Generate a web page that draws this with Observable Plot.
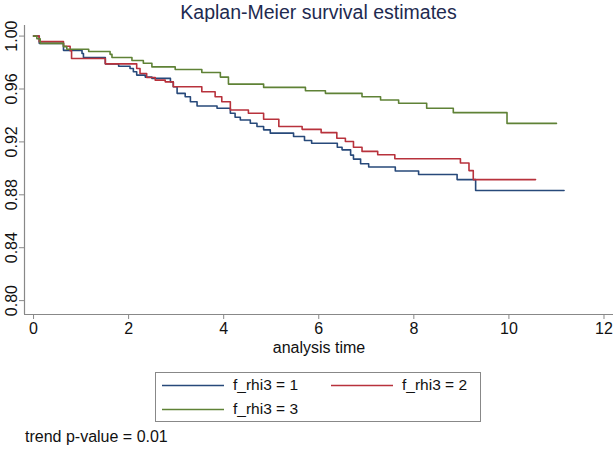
<!DOCTYPE html>
<html>
<head>
<meta charset="utf-8">
<script src="https://cdn.jsdelivr.net/npm/d3@7"></script>
<script src="https://cdn.jsdelivr.net/npm/@observablehq/plot@0.6"></script>
<style>
  html, body { margin: 0; padding: 0; background: #fff; }
  body { font-family: "Liberation Sans", Arial, Helvetica, sans-serif; color: #111; }
  #wrap { position: relative; width: 616px; height: 450px; overflow: hidden; }
  #title { position: absolute; left: 24px; width: 589px; top: 0; height: 24px; line-height: 24px; text-align: center; font-size: 19.5px; color: #1e2a50; }
  #chart { position: absolute; left: 0; top: 22px; }
  #legend { position: absolute; left: 155px; top: 372px; width: 326px; height: 50px; border: 1px solid #888; box-sizing: border-box; }
  .item { position: absolute; height: 20px; line-height: 20px; font-size: 15.5px; }
  .item svg { position: absolute; left: 0; top: 9px; }
  .item .lb { position: absolute; left: 71px; top: 0; white-space: nowrap; }
  #caption { position: absolute; left: 25px; top: 427px; font-size: 16px; line-height: 20px; }
</style>
</head>
<body>
<div id="wrap">
  <div id="title"></div>
  <div id="chart"></div>
  <div id="legend"></div>
  <div id="caption"></div>
</div>
<script>
// ---- data ----
const titleText = "Kaplan-Meier survival estimates";
const xLabel = "analysis time";
const captionText = "trend p-value = 0.01";
const groups = ["f_rhi3 = 1", "f_rhi3 = 2", "f_rhi3 = 3"];
const colors = ["#27497a", "#b8323c", "#5f8236"];
const xTicks = [0, 2, 4, 6, 8, 10, 12];
const yTicks = [0.80, 0.84, 0.88, 0.92, 0.96, 1.00];

const time1 = [0, 0.12, 0.63, 1.02, 1.05, 1.51, 1.79, 2.03, 2.10, 2.17, 2.35, 2.49, 2.88, 2.94, 3.02, 3.19, 3.30, 3.44, 3.86, 4.14, 4.24, 4.35, 4.56, 4.70, 4.84, 4.98, 5.47, 5.70, 5.85, 6.39, 6.49, 6.67, 6.73, 6.88, 7.05, 7.61, 8.10, 8.91, 9.30, 11.16];
const surv1 = [1.0, 0.9945, 0.9892, 0.9868, 0.9838, 0.979, 0.9772, 0.9755, 0.973, 0.9705, 0.969, 0.968, 0.9654, 0.9617, 0.9567, 0.9541, 0.9504, 0.9471, 0.9454, 0.9417, 0.9386, 0.9366, 0.9341, 0.9316, 0.9291, 0.9266, 0.9241, 0.921, 0.919, 0.916, 0.914, 0.910, 0.907, 0.9035, 0.901, 0.898, 0.8953, 0.8915, 0.8832, 0.8832];

const time2 = [0, 0.12, 0.63, 0.77, 0.80, 1.51, 2.17, 2.24, 2.38, 2.56, 2.77, 2.94, 3.54, 3.82, 3.96, 4.14, 4.52, 4.84, 5.16, 5.65, 6.05, 6.38, 6.56, 6.73, 6.91, 7.24, 7.60, 8.98, 9.16, 9.25, 10.56];
const surv2 = [1.0, 0.9958, 0.9923, 0.989, 0.983, 0.979, 0.9755, 0.9717, 0.9687, 0.9667, 0.9654, 0.9617, 0.9579, 0.9541, 0.9504, 0.9441, 0.9417, 0.9371, 0.9316, 0.9295, 0.927, 0.9228, 0.9203, 0.916, 0.9128, 0.9103, 0.9073, 0.904, 0.8983, 0.8915, 0.8915];

const time3 = [0, 0.07, 0.14, 0.63, 0.70, 1.16, 1.61, 1.65, 2.07, 2.31, 2.49, 2.98, 3.54, 3.93, 4.10, 4.84, 5.72, 6.14, 6.91, 7.30, 7.68, 8.27, 8.83, 9.96, 11.0];
const surv3 = [1.0, 0.998, 0.9945, 0.992, 0.990, 0.9883, 0.9862, 0.9838, 0.9815, 0.9795, 0.9767, 0.9747, 0.9725, 0.969, 0.9637, 0.9612, 0.9587, 0.9567, 0.9541, 0.9517, 0.9492, 0.9454, 0.9421, 0.934, 0.934];

// ---- build table ----
const series = [[time1, surv1], [time2, surv2], [time3, surv3]];
const rows = [];
series.forEach(([ts, ss], i) => ts.forEach((t, j) => rows.push({group: groups[i], t, s: ss[j]})));

const xDomain = [-0.19, 12.2];
const yDomain = [0.7895, 1.008];
const axisColor = "#888";
const font = "'Liberation Sans', Arial, Helvetica, sans-serif";

const chart = Plot.plot({
  width: 616,
  height: 343,
  marginTop: 3,
  marginLeft: 24,
  marginRight: 3,
  marginBottom: 51,
  style: {fontFamily: font, fontSize: "16px", color: "#111", background: "white", overflow: "visible"},
  x: {domain: xDomain},
  y: {domain: yDomain},
  color: {domain: groups, range: colors},
  marks: [
    Plot.ruleX([xDomain[0]], {stroke: axisColor, strokeWidth: 1.2}),
    Plot.ruleY([yDomain[0]], {stroke: axisColor, strokeWidth: 1.2}),
    Plot.axisX({ticks: xTicks, tickFormat: d3.format("d"), tickSize: 5, tickPadding: 3, stroke: axisColor, fontSize: 16,
      label: xLabel, labelAnchor: "center", labelOffset: 38, labelArrow: "none"}),
    Plot.axisY({ticks: yTicks, tickFormat: d3.format(".2f"), tickSize: 5, tickPadding: 3, stroke: axisColor, fontSize: 16,
      tickRotate: -90, label: null}),
    Plot.line(rows, {x: "t", y: "s", z: "group", stroke: "group", curve: "step-after", strokeWidth: 1.6})
  ]
});
document.getElementById("chart").appendChild(chart);

document.getElementById("title").textContent = titleText;
document.getElementById("caption").textContent = captionText;

const legendPos = [[6, 2], [175, 2], [6, 26]];
const legend = document.getElementById("legend");
const ns = "http://www.w3.org/2000/svg";
groups.forEach((g, i) => {
  const it = document.createElement("div");
  it.className = "item";
  it.style.left = legendPos[i][0] + "px";
  it.style.top = legendPos[i][1] + "px";
  const sv = document.createElementNS(ns, "svg");
  sv.setAttribute("width", "62");
  sv.setAttribute("height", "3");
  const ln = document.createElementNS(ns, "line");
  ln.setAttribute("x1", "0"); ln.setAttribute("x2", "62");
  ln.setAttribute("y1", "1.5"); ln.setAttribute("y2", "1.5");
  ln.setAttribute("stroke", colors[i]);
  ln.setAttribute("stroke-width", "1.6");
  sv.appendChild(ln);
  const lb = document.createElement("div");
  lb.className = "lb";
  lb.textContent = g;
  it.appendChild(sv); it.appendChild(lb);
  legend.appendChild(it);
});
</script>
</body>
</html>
